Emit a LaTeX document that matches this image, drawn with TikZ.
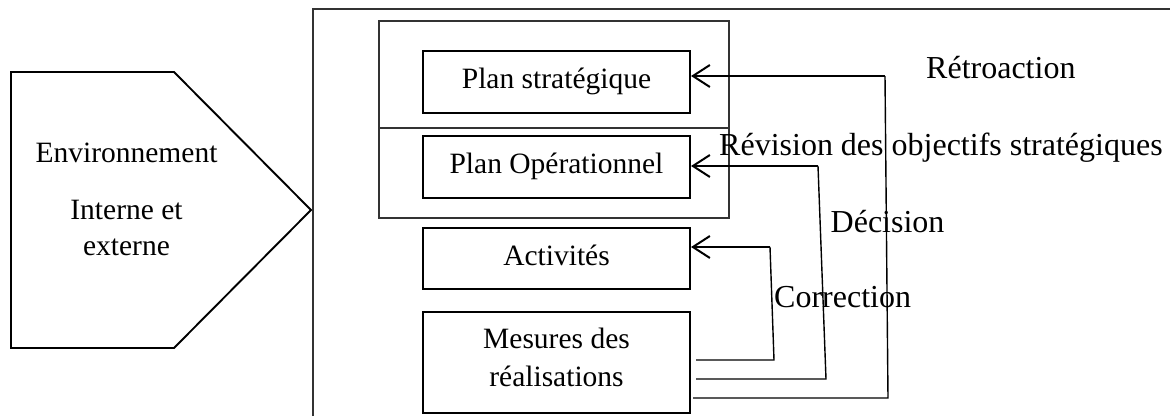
\documentclass[tikz,border=0pt]{standalone}
\usepackage{fontspec}
\setmainfont{Liberation Serif}
\usetikzlibrary{arrows.meta}
\begin{document}
\begin{tikzpicture}[x=1pt,y=-1pt,
  boxfont/.style={font=\fontsize{29.5}{37}\selectfont},
  lblfont/.style={font=\fontsize{32}{38}\selectfont},
  stagebox/.style={draw, line width=2.1pt, inner sep=0pt, boxfont,
                   minimum width=267pt, text height=20pt, text depth=6.5pt},
  thinframe/.style={draw=black!80, line width=1.2pt},
  feedback/.style={line width=1.4pt},
  retarrow/.style={line width=2pt,
                   -{Straight Barb[length=17pt,width=22pt,line width=2pt]}},
  fblabel/.style={lblfont, inner sep=0pt, anchor=base west}]
\useasboundingbox (0,0) rectangle (1170,416);

% environment pentagon
\draw[line width=1.9pt] (11,72) -- (174,72) -- (311,210) -- (174,348) -- (11,348) -- cycle;
\node[boxfont, inner sep=0pt, anchor=base] (env1) at (126.5,162) {Environnement};
\node[font=\fontsize{29.5}{36}\selectfont, inner sep=0pt, anchor=base] (env2) at (126.5,219)
  {\begin{tabular}[t]{@{}c@{}}Interne et\\externe\end{tabular}};

% organisation frame
\draw[thinframe] (313,416) -- (313,9) -- (1170,9);

% planning block
\draw[thinframe] (379,21) rectangle (729,218);
\draw[thinframe] (379,128) -- (729,128);

% stages
\node[stagebox, minimum height=62pt] (ps) at (556.5,82) {Plan stratégique};
\node[stagebox, minimum height=62pt] (po) at (556.5,167) {Plan Opérationnel};
\node[stagebox, minimum height=61pt] (act) at (556.5,258.5) {Activités};
\node[draw, line width=2.1pt, inner sep=0pt, minimum width=267pt, minimum height=101pt] (mes) at (556.5,362.5) {};
\node[font=\fontsize{29.5}{38}\selectfont, inner sep=0pt, anchor=base] (mestxt) at (556.5,348)
  {\begin{tabular}[t]{@{}c@{}}Mesures des\\réalisations\end{tabular}};

% feedback loops
\coordinate (c0) at (696,360);
\coordinate (c1) at (774,360);
\coordinate (c2) at (770,247);
\coordinate (d0) at (696,379);
\coordinate (d1) at (826,379);
\coordinate (d2) at (818,166);
\coordinate (r0) at (693,398);
\coordinate (r1) at (888,398);
\coordinate (r2) at (885,76);

\draw[feedback] (c0) -- (c1) -- (c2);
\draw[retarrow] (c2) -- (c2 -| act.east);
\draw[feedback] (d0) -- (d1) -- (d2);
\draw[retarrow] (d2) -- (d2 -| po.east);
\draw[feedback] (r0) -- (r1) -- (r2);
\draw[retarrow] (r2) -- (r2 -| ps.east);

% loop labels
\node[fblabel] (lretro) at (926,78) {Rétroaction};
\node[fblabel] (lrev) at (719,155) {Révision des objectifs stratégiques};
\node[fblabel] (ldec) at (830.5,232) {Décision};
\node[fblabel] (lcor) at (774,307) {Correction};
\end{tikzpicture}
\end{document}
